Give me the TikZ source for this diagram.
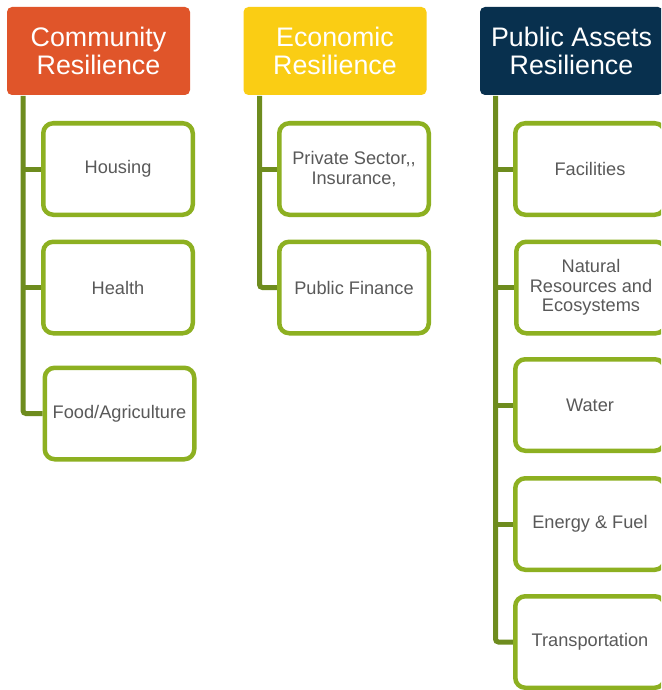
\documentclass[tikz,border=0pt]{standalone}
\usepackage{fontspec}
\setmainfont{Liberation Sans}[Ligatures=NoCommon]
\usetikzlibrary{backgrounds}
\definecolor{hdrorange}{HTML}{E0552A}
\definecolor{hdryellow}{HTML}{FACD14}
\definecolor{hdrnavy}{HTML}{08304E}
\definecolor{boxgreen}{HTML}{8DB021}
\definecolor{linegreen}{HTML}{6E8C1E}
\definecolor{txtgray}{HTML}{595959}
\begin{document}
\begin{tikzpicture}[x=1pt,y=-1pt,
  header/.style={rectangle, rounded corners=5pt, minimum width=183pt, minimum height=88pt,
    text=white, align=center, inner sep=0pt, font=\fontsize{26.8}{28}\selectfont},
  child/.style={rectangle, rounded corners=10pt, draw=boxgreen, line width=4.5pt, fill=white,
    minimum width=149.5pt, minimum height=91.5pt, text=txtgray, align=center, inner sep=0pt,
    font=\fontsize{18.2}{19.5}\selectfont},
  branch/.style={draw=linegreen, line width=5pt, rounded corners=3pt}]
\useasboundingbox (0,0) rectangle (661,690);
\clip (0,0) rectangle (661,690);
% headers
\node[header, fill=hdrorange] (comm) at (98.5,51) {Community\\Resilience};
\node[header, fill=hdryellow] (econ) at (335,51) {Economic\\Resilience};
\node[header, fill=hdrnavy] (pub) at (571.5,51) {Public Assets\\Resilience};
% children
\node[child] (housing) at (118,169) {Housing};
\node[child] (health) at (118,287.5) {Health};
\node[child] (food) at (119.5,413.5) {Food/Agriculture};
\node[child] (private) at (354,169) {Private Sector,{},\\Insurance,};
\node[child] (finance) at (354,287.5) {Public Finance};
\node[child] (facil) at (590,169) {Facilities};
\node[child] (natural) at (591,287.5) {Natural\\Resources and\\Ecosystems};
\node[child] (water) at (590,405) {Water};
\node[child] (energy) at (590,524) {Energy \& Fuel};
\node[child] (transp) at (590,642) {Transportation};
% trunk tops
\coordinate (ct) at (23,96);
\coordinate (et) at (259.5,96);
\coordinate (pt) at (495.5,96);
% connectors
\begin{scope}[on background layer]
\fill[white] (0,0) rectangle (661,690);
\path[branch] (ct) |- (food.west);
\path[branch] (ct |- housing.west) -- (housing.west);
\path[branch] (ct |- health.west) -- (health.west);
\path[branch] (et) |- (finance.west);
\path[branch] (et |- private.west) -- (private.west);
\path[branch] (pt) |- (transp.west);
\path[branch] (pt |- facil.west) -- (facil.west);
\path[branch] (pt |- natural.west) -- (natural.west);
\path[branch] (pt |- water.west) -- (water.west);
\path[branch] (pt |- energy.west) -- (energy.west);
\end{scope}
\end{tikzpicture}
\end{document}
